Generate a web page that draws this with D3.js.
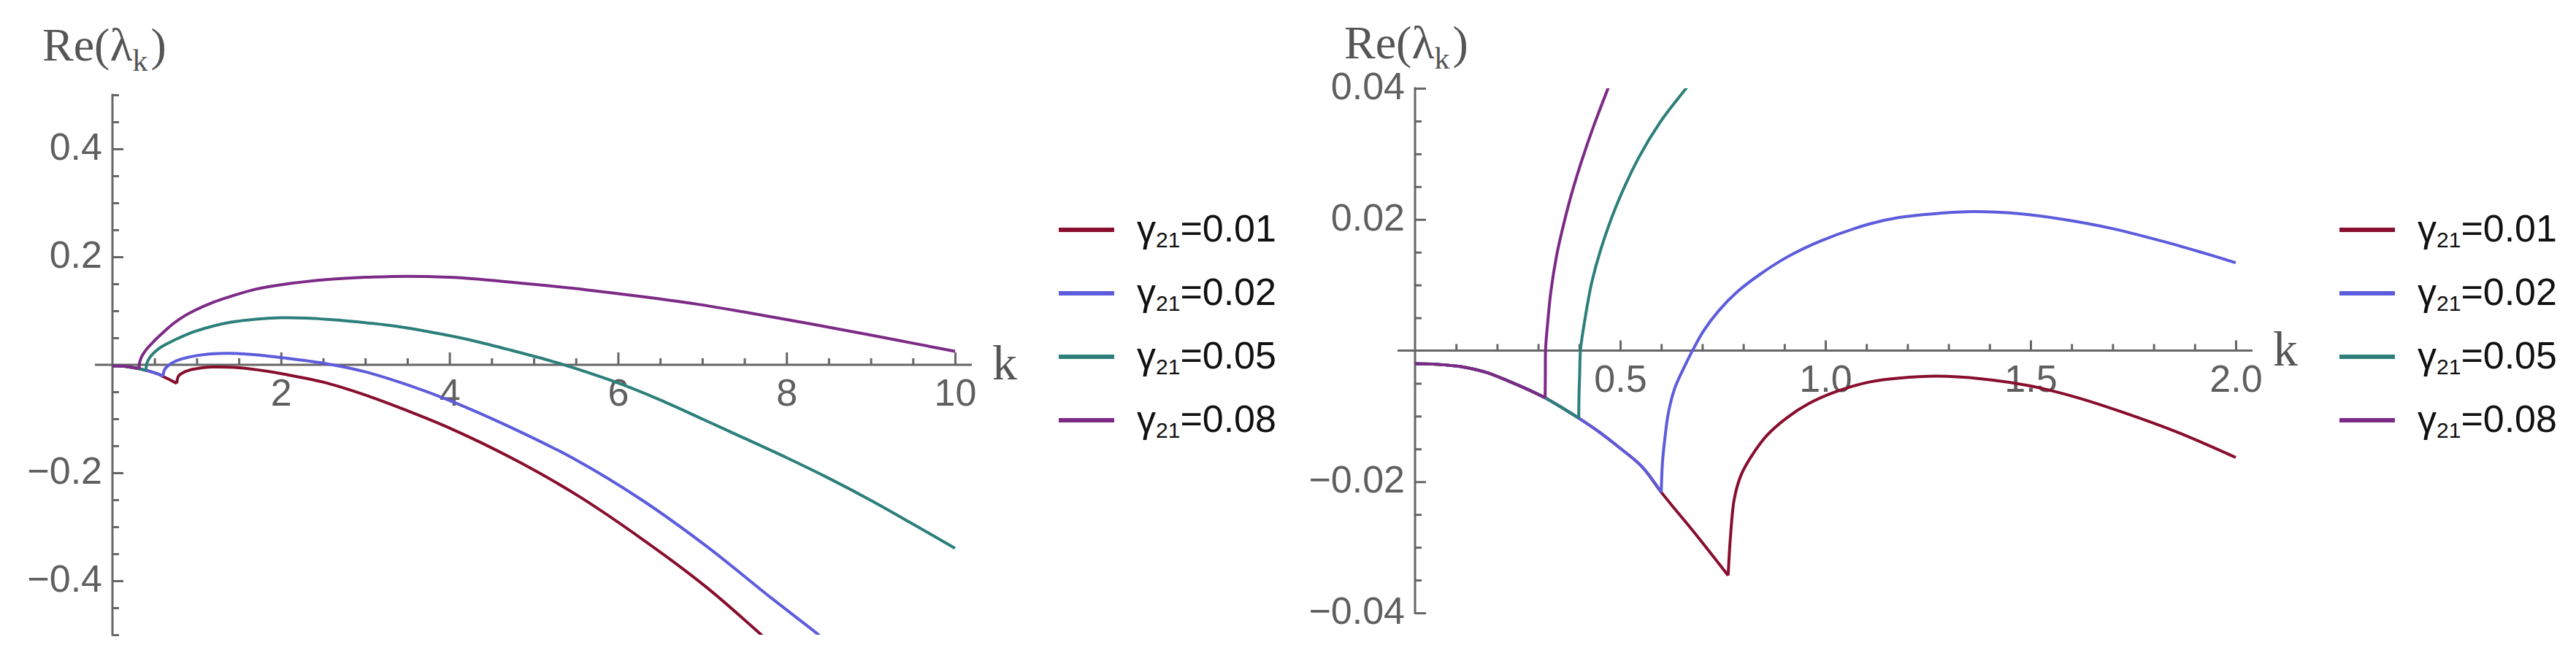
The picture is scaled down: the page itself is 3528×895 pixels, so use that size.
<!DOCTYPE html>
<html>
<head>
<meta charset="utf-8">
<script src="https://cdn.jsdelivr.net/npm/d3@7"></script>
<style>
  body { margin: 0; background: #fff; }
  svg { display: block; }
</style>
</head>
<body>
<div id="chart"></div>
<script>
const width = 3528;
const height = 895;

// gamma_21 values and colours of the four curves
const gammas = ['0.01', '0.02', '0.05', '0.08'];
const colors = ['#880e2e', '#5c5cdc', '#2c7f7a', '#7c2a86'];

// part of the curve that all four share, [k, Re(lambda_k)]
const lowerBranch = [
  [0.000, -0.0020], [0.053, -0.0021], [0.117, -0.0025], [0.172, -0.0033],
  [0.226, -0.0046], [0.281, -0.0061], [0.317, -0.0072], [0.358, -0.0087],
  [0.399, -0.0103], [0.444, -0.0122], [0.498, -0.0148], [0.553, -0.0177],
  [0.600, -0.0216], [0.685, -0.0281], [0.763, -0.0343]
];

// upper branches
const gamma001 = [
  [0.763, -0.0343], [0.769, -0.0281], [0.778, -0.0226], [0.795, -0.0189],
  [0.822, -0.0159], [0.858, -0.0129], [0.905, -0.0103], [0.959, -0.0081],
  [1.024, -0.0063], [1.107, -0.0048], [1.180, -0.0042], [1.270, -0.0039],
  [1.380, -0.0043], [1.500, -0.0054], [1.610, -0.0071], [1.720, -0.0093],
  [1.860, -0.0125], [2.000, -0.0163], [2.500, -0.032], [3.000, -0.056],
  [3.500, -0.085], [4.000, -0.117], [4.730, -0.172], [5.500, -0.240],
  [6.280, -0.322], [7.050, -0.412], [7.700, -0.500], [7.750, -0.507]
];
const gamma002 = [
  [0.600, -0.0216], [0.603, -0.0170], [0.609, -0.0133], [0.617, -0.0096],
  [0.632, -0.0059], [0.653, -0.0029], [0.677, 0.0001], [0.703, 0.0030],
  [0.739, 0.0060], [0.786, 0.0090], [0.840, 0.0116], [0.905, 0.0142],
  [0.988, 0.0167], [1.107, 0.0193], [1.180, 0.0203], [1.270, 0.0209],
  [1.360, 0.0212], [1.470, 0.0209], [1.580, 0.0200], [1.700, 0.0186],
  [1.820, 0.0167], [1.910, 0.0151], [2.000, 0.0134], [2.500, 0.003],
  [3.000, -0.013], [3.500, -0.037], [4.000, -0.066], [4.730, -0.116],
  [5.500, -0.176], [6.280, -0.250], [7.050, -0.336], [7.820, -0.432],
  [8.380, -0.500], [8.430, -0.507]
];
const gamma005 = [
  [0.399, -0.0103], [0.3995, -0.0070], [0.401, -0.0040], [0.403, 0.0000],
  [0.407, 0.0020], [0.412, 0.0040], [0.420, 0.0070], [0.431, 0.0105],
  [0.453, 0.0155], [0.490, 0.0220], [0.544, 0.0293], [0.598, 0.0349],
  [0.662, 0.0401], [0.750, 0.047], [0.850, 0.054], [0.980, 0.062],
  [1.200, 0.072], [1.410, 0.079], [1.700, 0.0845], [1.990, 0.087],
  [2.300, 0.0865], [2.560, 0.084], [3.000, 0.078], [3.430, 0.070],
  [4.000, 0.054], [4.300, 0.044], [4.730, 0.027], [5.230, 0.006],
  [5.500, -0.007], [5.990, -0.033], [6.500, -0.065], [7.010, -0.101],
  [7.500, -0.136], [8.000, -0.172], [8.500, -0.210], [9.000, -0.251],
  [9.500, -0.295], [10.000, -0.340]
];
const gamma008 = [
  [0.317, -0.0072], [0.3175, -0.0040], [0.318, 0.0000], [0.320, 0.0020],
  [0.322, 0.0034], [0.331, 0.0090], [0.345, 0.0145], [0.358, 0.0182],
  [0.381, 0.0238], [0.408, 0.0293], [0.435, 0.0342], [0.471, 0.0401],
  [0.540, 0.051], [0.630, 0.064], [0.720, 0.076], [0.850, 0.090],
  [0.980, 0.101], [1.200, 0.116], [1.410, 0.127], [1.700, 0.140],
  [1.990, 0.148], [2.560, 0.158], [3.000, 0.162], [3.500, 0.164],
  [4.000, 0.162], [4.300, 0.159], [4.730, 0.153], [5.620, 0.139],
  [6.300, 0.126], [6.950, 0.112], [7.600, 0.095], [8.280, 0.076],
  [9.000, 0.055], [9.500, 0.040], [10.000, 0.025]
];
const upperBranches = [gamma001, gamma002, gamma005, gamma008];

// tick labels
const leftXTicks = [2, 4, 6, 8, 10];
const leftYTicks = [-0.4, -0.2, 0.2, 0.4];
const rightXTicks = [0.5, 1.0, 1.5, 2.0];
const rightYTicks = [-0.04, -0.02, 0.02, 0.04];

const series = gammas.map((g, i) => ({
  name: g,
  color: colors[i],
  lower: lowerBranch.filter(d => d[0] <= upperBranches[i][0][0]),
  upper: upperBranches[i]
}));

const svg = d3.select('#chart')
  .append('svg')
  .attr('width', width)
  .attr('height', height);

const tickFont = '"Liberation Sans", Arial, sans-serif';
const serifFont = '"Liberation Serif", "Times New Roman", serif';
const axisColor = '#666666';

function drawPanel(opts) {
  const x = d3.scaleLinear().domain(opts.xDomain).range(opts.xRange);
  const y = d3.scaleLinear().domain(opts.yDomain).range(opts.yRange);
  const g = svg.append('g');

  const clipId = 'clip-' + opts.id;
  g.append('clipPath').attr('id', clipId)
    .append('rect')
    .attr('x', opts.xRange[0] - 40)
    .attr('y', y(opts.yDomain[1]))
    .attr('width', opts.xRange[1] - opts.xRange[0] + 80)
    .attr('height', y(opts.yDomain[0]) - y(opts.yDomain[1]));

  // minor x ticks
  g.append('g')
    .attr('transform', `translate(0,${y(0)})`)
    .call(d3.axisBottom(x).tickValues(opts.xMinor).tickSizeInner(-9).tickSizeOuter(0).tickFormat(''))
    .call(a => a.select('.domain').remove())
    .call(a => a.selectAll('line').attr('stroke', axisColor).attr('stroke-width', 3));

  // major x ticks + labels
  g.append('g')
    .attr('transform', `translate(0,${y(0)})`)
    .call(d3.axisBottom(x).tickValues(opts.xTicks).tickSizeInner(-opts.xMajorLen).tickSizeOuter(0).tickFormat(opts.xFormat))
    .call(a => a.select('.domain').remove())
    .call(a => a.selectAll('line').attr('stroke', axisColor).attr('stroke-width', 3))
    .call(a => a.selectAll('text')
      .attr('y', 56).attr('dy', null)
      .attr('fill', '#5f5f5f')
      .attr('font-family', tickFont).attr('font-size', 52));

  // minor y ticks
  g.append('g')
    .attr('transform', `translate(${x(opts.yAxisAt)},0)`)
    .call(d3.axisLeft(y).tickValues(opts.yMinor).tickSizeInner(-9).tickSizeOuter(0).tickFormat(''))
    .call(a => a.select('.domain').remove())
    .call(a => a.selectAll('line').attr('stroke', axisColor).attr('stroke-width', 3));

  // major y ticks + labels
  g.append('g')
    .attr('transform', `translate(${x(opts.yAxisAt)},0)`)
    .call(d3.axisLeft(y).tickValues(opts.yTicks).tickSizeInner(-15).tickSizeOuter(0).tickPadding(14).tickFormat(opts.yFormat))
    .call(a => a.select('.domain').remove())
    .call(a => a.selectAll('line').attr('stroke', axisColor).attr('stroke-width', 3))
    .call(a => a.selectAll('text')
      .attr('dy', '0.28em')
      .attr('fill', '#5f5f5f')
      .attr('font-family', tickFont).attr('font-size', 52));

  // axis lines
  g.append('line')
    .attr('x1', opts.xRange[0] - 24).attr('x2', opts.xRange[1] + 23)
    .attr('y1', y(0)).attr('y2', y(0))
    .attr('stroke', axisColor).attr('stroke-width', 3);
  g.append('line')
    .attr('x1', x(opts.yAxisAt)).attr('x2', x(opts.yAxisAt))
    .attr('y1', y(opts.yDomain[1]) - 1.5).attr('y2', y(opts.yDomain[0]) + 1.5)
    .attr('stroke', axisColor).attr('stroke-width', 3);

  // curves
  const line = d3.line()
    .x(d => x(d[0]))
    .y(d => y(d[1]))
    .curve(d3.curveCatmullRom.alpha(0.5));

  const curves = g.append('g').attr('clip-path', `url(#${clipId})`);
  series.forEach(s => {
    [s.lower, s.upper].forEach(part => {
      const pts = part.filter(d => d[0] <= opts.xDomain[1] + 1e-9);
      curves.append('path')
        .attr('d', line(pts))
        .attr('fill', 'none')
        .attr('stroke', s.color)
        .attr('stroke-width', 4)
        .attr('stroke-linejoin', 'round');
    });
  });

  // axis titles
  const title = g.append('text')
    .attr('x', opts.titleX).attr('y', opts.titleY)
    .attr('font-family', serifFont).attr('font-size', 64)
    .attr('fill', '#555');
  title.append('tspan').text('Re(λ');
  title.append('tspan').attr('font-size', 42).attr('dy', 14).text('k');
  title.append('tspan').attr('dy', -14).attr('dx', 4).text(')');

  g.append('text')
    .attr('x', opts.xRange[1] + 51).attr('y', y(0) + 20)
    .attr('font-family', serifFont).attr('font-size', 68)
    .attr('fill', '#555')
    .text('k');

  // legend
  const legend = g.append('g')
    .attr('transform', `translate(${opts.legendX},315)`);
  series.forEach((s, i) => {
    const row = legend.append('g').attr('transform', `translate(0,${i * 87})`);
    row.append('line')
      .attr('x1', 0).attr('x2', 76)
      .attr('y1', 0).attr('y2', 0)
      .attr('stroke', s.color).attr('stroke-width', 6);
    const t = row.append('text')
      .attr('x', 107).attr('y', 16)
      .attr('font-family', tickFont).attr('font-size', 52)
      .attr('fill', '#111');
    t.append('tspan').text('γ');
    t.append('tspan').attr('font-size', 30).attr('dy', 8).text('21');
    t.append('tspan').attr('dy', -8).text('=' + s.name);
  });
}

drawPanel({
  id: 'left',
  xDomain: [0, 10], xRange: [154, 1308],
  yDomain: [-0.5, 0.5], yRange: [870, 130],
  yAxisAt: 0,
  xTicks: leftXTicks, xMinor: d3.range(1, 21).map(i => i * 0.5).filter(v => v % 2 !== 0),
  yTicks: leftYTicks, yMinor: d3.range(-10, 11).map(i => i * 0.05).filter(v => Math.abs(Math.round(v * 100)) % 20 !== 0 || Math.abs(v) > 0.45),
  xMajorLen: 17,
  xFormat: d3.format('d'), yFormat: d3.format('.1f'),
  titleX: 58, titleY: 83,
  legendX: 1450
});

drawPanel({
  id: 'right',
  xDomain: [0, 2], xRange: [1938, 3062],
  yDomain: [-0.04, 0.04], yRange: [840, 121],
  yAxisAt: 0,
  xTicks: rightXTicks, xMinor: d3.range(1, 21).map(i => i * 0.1).filter(v => Math.round(v * 10) % 5 !== 0),
  yTicks: rightYTicks, yMinor: d3.range(-8, 9).map(i => i * 0.005).filter(v => Math.round(v * 1000) % 20 !== 0),
  xMajorLen: 14,
  xFormat: d3.format('.1f'), yFormat: d3.format('.2f'),
  titleX: 1841, titleY: 80,
  legendX: 3204
});
</script>
</body>
</html>
